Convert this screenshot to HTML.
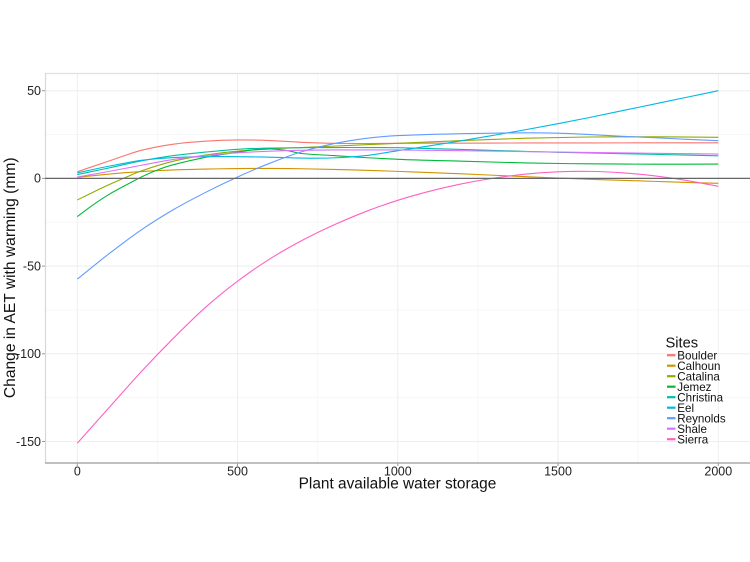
<!DOCTYPE html>
<html>
<head>
<meta charset="utf-8">
<style>
html,body{margin:0;padding:0;background:#fff;}
svg{display:block;}
text{font-family:"Liberation Sans",Arial,sans-serif;}
</style>
</head>
<body>
<svg width="750" height="562" viewBox="0 0 750 562" xmlns="http://www.w3.org/2000/svg">
<rect x="0" y="0" width="750" height="562" fill="#fff"/>
<!-- minor grid -->
<g stroke="#f7f7f7" stroke-width="1">
<line x1="157.4" y1="73" x2="157.4" y2="463"/>
<line x1="317.6" y1="73" x2="317.6" y2="463"/>
<line x1="477.9" y1="73" x2="477.9" y2="463"/>
<line x1="638.1" y1="73" x2="638.1" y2="463"/>
<line x1="45" y1="134.5" x2="750" y2="134.5"/>
<line x1="45" y1="222.2" x2="750" y2="222.2"/>
<line x1="45" y1="310" x2="750" y2="310"/>
<line x1="45" y1="397.6" x2="750" y2="397.6"/>
</g>
<!-- major grid -->
<g stroke="#eeeeee" stroke-width="1">
<line x1="77.3" y1="73" x2="77.3" y2="463"/>
<line x1="237.5" y1="73" x2="237.5" y2="463"/>
<line x1="397.8" y1="73" x2="397.8" y2="463"/>
<line x1="558" y1="73" x2="558" y2="463"/>
<line x1="718.3" y1="73" x2="718.3" y2="463"/>
<line x1="45" y1="90.7" x2="750" y2="90.7"/>
<line x1="45" y1="266.1" x2="750" y2="266.1"/>
<line x1="45" y1="353.8" x2="750" y2="353.8"/>
<line x1="45" y1="441.5" x2="750" y2="441.5"/>
</g>
<!-- panel border -->
<line x1="45" y1="73.5" x2="750" y2="73.5" stroke="#e0e0e0" stroke-width="1.2"/>
<line x1="45.5" y1="73" x2="45.5" y2="463" stroke="#d8d8d8" stroke-width="1.2"/>
<line x1="45" y1="463" x2="750" y2="463" stroke="#9a9a9a" stroke-width="1.2"/>
<!-- ticks -->
<g stroke="#9a9a9a" stroke-width="1">
<line x1="42" y1="90.7" x2="45" y2="90.7"/>
<line x1="42" y1="178.4" x2="45" y2="178.4"/>
<line x1="42" y1="266.1" x2="45" y2="266.1"/>
<line x1="42" y1="353.8" x2="45" y2="353.8"/>
<line x1="42" y1="441.5" x2="45" y2="441.5"/>
<line x1="77.3" y1="463" x2="77.3" y2="466"/>
<line x1="237.5" y1="463" x2="237.5" y2="466"/>
<line x1="397.8" y1="463" x2="397.8" y2="466"/>
<line x1="558" y1="463" x2="558" y2="466"/>
<line x1="718.3" y1="463" x2="718.3" y2="466"/>
</g>
<!-- series -->
<g id="series" transform="translate(77.3,178.4) scale(0.3205,-1.754)" fill="none" stroke-width="1.1" stroke-linejoin="round">
<polyline vector-effect="non-scaling-stroke" stroke="#F8766D" points="0,3.8 100,10 200,16 300,19.5 400,21.2 500,21.9 600,21.6 700,20.6 800,20 900,19.9 1000,20 1200,20.1 1400,20.2 1600,20.2 1800,20.3 2000,20.3"/>
<polyline vector-effect="non-scaling-stroke" stroke="#D39200" points="0,0.6 100,2.5 200,3.9 300,4.8 400,5.3 500,5.6 600,5.7 700,5.5 800,5.1 900,4.6 1000,4 1100,3.3 1200,2.6 1300,1.8 1400,1 1500,0.2 1600,-0.5 1700,-1.1 1800,-1.7 1900,-2.3 2000,-2.8"/>
<polyline vector-effect="non-scaling-stroke" stroke="#93AA00" points="0,-12.3 50,-7.8 100,-3.5 150,0.5 200,4.3 300,9.8 400,13.3 500,15.5 600,16.8 700,17.6 800,18.4 900,19.2 1000,20 1200,21.6 1400,22.9 1600,23.6 1800,23.7 2000,23.4"/>
<polyline vector-effect="non-scaling-stroke" stroke="#00BA38" points="0,-21.8 50,-15 100,-9 150,-4 200,0.8 250,4.8 300,7.8 400,12 500,15 550,16.3 600,16.8 650,16 700,14.2 800,13 850,12.4 1000,10.9 1200,9.8 1400,8.8 1600,8.3 1800,8.1 2000,8.2"/>
<polyline vector-effect="non-scaling-stroke" stroke="#00C19F" points="0,2.2 100,6 200,10 300,13 400,15 500,16.6 600,17.3 700,17.5 800,17.6 900,17.6 1000,17.5 1200,16.5 1400,15.4 1500,14.9 1600,14.5 1800,13.7 2000,12.9"/>
<polyline vector-effect="non-scaling-stroke" stroke="#00B9E3" points="0,3.2 100,7 200,10.3 300,11.9 400,12.4 500,12.4 600,12.1 700,11.6 800,11.7 900,13 1000,15.8 1100,18.6 1200,21.5 1300,24.6 1400,27.8 1500,31.2 1600,34.8 1700,38.6 1800,42.4 1900,46.2 2000,50"/>
<polyline vector-effect="non-scaling-stroke" stroke="#619CFF" points="0,-57.4 100,-42.8 200,-29.3 300,-17.8 400,-8 500,0.8 600,8.6 700,15.2 800,19.8 900,22.8 1000,24.4 1200,25.5 1400,26 1500,25.8 1600,25 1700,24 1800,23.2 1900,22.3 2000,21.5"/>
<polyline vector-effect="non-scaling-stroke" stroke="#DB72FB" points="0,0.8 100,4 200,7.5 300,10.8 400,13 500,14.6 600,15.5 700,16 800,16.2 1000,16.2 1200,15.8 1500,15 1800,14.3 2000,13.9"/>
<polyline vector-effect="non-scaling-stroke" stroke="#FF61C3" points="0,-151 100,-130.5 200,-110.1 300,-91.1 400,-73.5 500,-58.6 600,-46 700,-35.5 800,-26.6 900,-18.9 1000,-12.5 1100,-7.3 1200,-3.1 1300,0.15 1400,2.45 1500,3.75 1600,4.0 1700,3.2 1800,1.45 1900,-1.15 2000,-4.5"/>
</g>
<!-- zero line -->
<line x1="45" y1="178.4" x2="750" y2="178.4" stroke="#666" stroke-width="1.2"/>
<!-- y tick labels -->
<g font-size="12.5" fill="#222" text-anchor="end">
<text x="41" y="95">50</text>
<text x="41" y="182.7">0</text>
<text x="41" y="270.4">-50</text>
<text x="41" y="358.1">-100</text>
<text x="41" y="445.8">-150</text>
</g>
<!-- x tick labels -->
<g font-size="12.5" fill="#222" text-anchor="middle">
<text x="77.3" y="475.5">0</text>
<text x="237.5" y="475.5">500</text>
<text x="397.8" y="475.5">1000</text>
<text x="558" y="475.5">1500</text>
<text x="718.3" y="475.5">2000</text>
</g>
<!-- axis titles -->
<text x="397.5" y="488.3" font-size="15.4" fill="#111" text-anchor="middle">Plant available water storage</text>
<text transform="translate(15,277.8) rotate(-90)" font-size="15.6" fill="#111" text-anchor="middle">Change in AET with warming (mm)</text>
<!-- legend -->
<text x="665.5" y="347.3" font-size="14.7" fill="#111">Sites</text>
<g stroke-width="2.2">
<line x1="667" y1="355.2" x2="675.5" y2="355.2" stroke="#F8766D"/>
<line x1="667" y1="365.7" x2="675.5" y2="365.7" stroke="#D39200"/>
<line x1="667" y1="376.2" x2="675.5" y2="376.2" stroke="#93AA00"/>
<line x1="667" y1="386.7" x2="675.5" y2="386.7" stroke="#00BA38"/>
<line x1="667" y1="397.2" x2="675.5" y2="397.2" stroke="#00C19F"/>
<line x1="667" y1="407.7" x2="675.5" y2="407.7" stroke="#00B9E3"/>
<line x1="667" y1="418.2" x2="675.5" y2="418.2" stroke="#619CFF"/>
<line x1="667" y1="428.7" x2="675.5" y2="428.7" stroke="#DB72FB"/>
<line x1="667" y1="439.2" x2="675.5" y2="439.2" stroke="#FF61C3"/>
</g>
<g font-size="11.6" fill="#111">
<text x="677.3" y="359.3">Boulder</text>
<text x="677.3" y="369.8">Calhoun</text>
<text x="677.3" y="380.3">Catalina</text>
<text x="677.3" y="390.8">Jemez</text>
<text x="677.3" y="401.3">Christina</text>
<text x="677.3" y="411.8">Eel</text>
<text x="677.3" y="422.3">Reynolds</text>
<text x="677.3" y="432.8">Shale</text>
<text x="677.3" y="443.3">Sierra</text>
</g>
</svg>
<script>
(function(){
  var NS="http://www.w3.org/2000/svg";
  var pls=document.querySelectorAll('#series polyline');
  for(var k=0;k<pls.length;k++){
    var pl=pls[k];
    var pts=pl.getAttribute('points').trim().split(/\s+/).map(function(p){return p.split(',').map(Number);});
    var d='M'+pts[0][0]+','+pts[0][1];
    for(var i=0;i<pts.length-1;i++){
      var p0=pts[i-1]||pts[i], p1=pts[i], p2=pts[i+1], p3=pts[i+2]||pts[i+1];
      var dx=p2[0]-p1[0];
      var m1=(p2[1]-p0[1])/(p2[0]-p0[0]);
      var m2=(p3[1]-p1[1])/(p3[0]-p1[0]);
      var c1x=p1[0]+dx/3, c1y=p1[1]+m1*dx/3;
      var c2x=p2[0]-dx/3, c2y=p2[1]-m2*dx/3;
      d+=' C'+c1x.toFixed(2)+','+c1y.toFixed(3)+' '+c2x.toFixed(2)+','+c2y.toFixed(3)+' '+p2[0]+','+p2[1];
    }
    var path=document.createElementNS(NS,'path');
    path.setAttribute('d',d);
    path.setAttribute('stroke',pl.getAttribute('stroke'));
    path.setAttribute('vector-effect','non-scaling-stroke');
    path.setAttribute('fill','none');
    pl.parentNode.replaceChild(path,pl);
  }
})();
</script>
</body>
</html>
